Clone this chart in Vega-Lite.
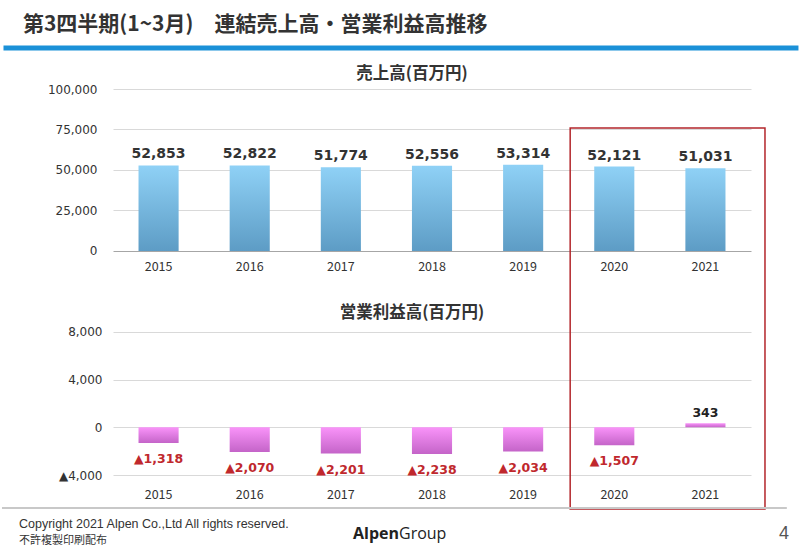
{
  "$schema": "https://vega.github.io/schema/vega-lite/v6.json",
  "width": 638,
  "height": 386,
  "padding": {"left": 0, "top": 14, "right": 0, "bottom": 0},
  "autosize": {"type": "pad"},
  "background": "#ffffff",
  "title": {
    "text": "第3四半期(1~3月)　連結売上高・営業利益高推移",
    "anchor": "start",
    "frame": "bounds",
    "dx": 22,
    "offset": 10,
    "font": "Noto Sans CJK JP",
    "fontSize": 21,
    "fontWeight": "bold",
    "color": "#333333"
  },
  "config": {"view": {"stroke": null}},
  "data": {
    "values": [
      {"kind": "bar", "year": "2015", "sales": 52853, "profit": -1318},
      {"kind": "bar", "year": "2016", "sales": 52822, "profit": -2070},
      {"kind": "bar", "year": "2017", "sales": 51774, "profit": -2201},
      {"kind": "bar", "year": "2018", "sales": 52556, "profit": -2238},
      {"kind": "bar", "year": "2019", "sales": 53314, "profit": -2034},
      {"kind": "bar", "year": "2020", "sales": 52121, "profit": -1507},
      {"kind": "bar", "year": "2021", "sales": 51031, "profit": 343},
      {"kind": "subtitle_top", "year": "2018", "label": "売上高(百万円)"},
      {"kind": "subtitle_bottom", "year": "2018", "label": "営業利益高(百万円)"},
      {"kind": "frame", "year": "2020", "year_end": "2021"},
      {"kind": "header_rule", "year": "2015", "year_end": "2021"},
      {"kind": "footer_rule", "year": "2015", "year_end": "2021"},
      {"kind": "copyright", "year": "2015", "label": "Copyright 2021 Alpen Co.,Ltd All rights reserved."},
      {"kind": "notice", "year": "2015", "label": "不許複製印刷配布"},
      {"kind": "logo_bold", "year": "2018", "label": "Alpen"},
      {"kind": "logo_regular", "year": "2018", "label": "Group"},
      {"kind": "page", "year": "2021", "label": "4"}
    ]
  },
  "encoding": {
    "x": {
      "field": "year",
      "type": "nominal",
      "scale": {"paddingInner": 0.56, "paddingOuter": 0.28},
      "axis": {
        "title": null,
        "labelAngle": 0,
        "domain": false,
        "ticks": false,
        "labelPadding": 13,
        "labelFont": "Noto Sans CJK JP",
        "labelFontSize": 12.5,
        "labelColor": "#333333"
      }
    }
  },
  "layer": [
    {
      "layer": [
        {
          "transform": [{"filter": "datum.kind === 'bar'"}],
          "mark": {
            "type": "bar",
            "fill": {
              "gradient": "linear", "x1": 0, "y1": 0, "x2": 0, "y2": 1,
              "stops": [{"offset": 0, "color": "#8fd1f6"}, {"offset": 1, "color": "#5d9cc5"}]
            }
          },
          "encoding": {
            "y": {
              "field": "sales",
              "type": "quantitative",
              "scale": {"domain": [-138272, 100000], "nice": false, "zero": false},
              "axis": {"title": null, "orient": "left", "values": [0, 25000, 50000, 75000, 100000], "format": ",.0f", "domain": false, "ticks": false, "grid": true, "gridColor": {"condition": {"test": "datum.value === 0", "value": "#a6a6a6"}, "value": "#d9d9d9"}, "labelPadding": 16, "labelFont": "DejaVu Sans", "labelFontSize": 12, "labelColor": "#333333"}
            },
            "y2": {"datum": 0}
          }
        },
        {
          "transform": [{"filter": "datum.kind === 'bar'"}],
          "mark": {"type": "text", "font": "DejaVu Sans", "fontSize": 14, "fontWeight": "bold", "color": "#333333", "baseline": "alphabetic", "dy": -7},
          "encoding": {
            "y": {
              "field": "sales",
              "type": "quantitative",
              "scale": {"domain": [-138272, 100000], "nice": false, "zero": false},
              "axis": {"title": null, "orient": "left", "values": [0, 25000, 50000, 75000, 100000], "format": ",.0f", "domain": false, "ticks": false, "grid": true, "gridColor": {"condition": {"test": "datum.value === 0", "value": "#a6a6a6"}, "value": "#d9d9d9"}, "labelPadding": 16, "labelFont": "DejaVu Sans", "labelFontSize": 12, "labelColor": "#333333"}
            },
            "text": {"field": "sales", "type": "quantitative", "format": ","}
          }
        },
        {
          "transform": [{"filter": "datum.kind === 'bar'"}],
          "mark": {"type": "text", "font": "Noto Sans CJK JP", "fontSize": 12.5, "color": "#333333", "baseline": "middle"},
          "encoding": {
            "y": {
              "datum": -9877,
              "type": "quantitative",
              "scale": {"domain": [-138272, 100000], "nice": false, "zero": false},
              "axis": {"title": null, "orient": "left", "values": [0, 25000, 50000, 75000, 100000], "format": ",.0f", "domain": false, "ticks": false, "grid": true, "gridColor": {"condition": {"test": "datum.value === 0", "value": "#a6a6a6"}, "value": "#d9d9d9"}, "labelPadding": 16, "labelFont": "DejaVu Sans", "labelFontSize": 12, "labelColor": "#333333"}
            },
            "text": {"field": "year"}
          }
        },
        {
          "transform": [{"filter": "datum.kind === 'subtitle_top'"}],
          "mark": {"type": "text", "font": "Noto Sans CJK JP", "fontSize": 16.5, "fontWeight": "bold", "color": "#333333", "baseline": "middle"},
          "encoding": {
            "x": {"field": "year", "type": "nominal", "bandPosition": 0},
            "y": {
              "datum": 109259,
              "type": "quantitative",
              "scale": {"domain": [-138272, 100000], "nice": false, "zero": false},
              "axis": {"title": null, "orient": "left", "values": [0, 25000, 50000, 75000, 100000], "format": ",.0f", "domain": false, "ticks": false, "grid": true, "gridColor": {"condition": {"test": "datum.value === 0", "value": "#a6a6a6"}, "value": "#d9d9d9"}, "labelPadding": 16, "labelFont": "DejaVu Sans", "labelFontSize": 12, "labelColor": "#333333"}
            },
            "text": {"field": "label"}
          }
        },
        {
          "transform": [{"filter": "datum.kind === 'frame'"}],
          "mark": {"type": "rect", "filled": false, "color": "#b3262b", "strokeWidth": 1.5},
          "encoding": {
            "x": {"field": "year", "type": "nominal", "bandPosition": -0.6},
            "x2": {"field": "year_end", "bandPosition": 1.985},
            "y": {
              "datum": 75926,
              "type": "quantitative",
              "scale": {"domain": [-138272, 100000], "nice": false, "zero": false},
              "axis": {"title": null, "orient": "left", "values": [0, 25000, 50000, 75000, 100000], "format": ",.0f", "domain": false, "ticks": false, "grid": true, "gridColor": {"condition": {"test": "datum.value === 0", "value": "#a6a6a6"}, "value": "#d9d9d9"}, "labelPadding": 16, "labelFont": "DejaVu Sans", "labelFontSize": 12, "labelColor": "#333333"}
            },
            "y2": {"datum": -159259}
          }
        },
        {
          "transform": [{"filter": "datum.kind === 'header_rule'"}],
          "mark": {"type": "rule", "color": "#1b91d8", "strokeWidth": 5},
          "encoding": {
            "x": {"field": "year", "type": "nominal", "bandPosition": -3.367},
            "x2": {"field": "year_end", "bandPosition": 2.82},
            "y": {
              "datum": 125309,
              "type": "quantitative",
              "scale": {"domain": [-138272, 100000], "nice": false, "zero": false},
              "axis": {"title": null, "orient": "left", "values": [0, 25000, 50000, 75000, 100000], "format": ",.0f", "domain": false, "ticks": false, "grid": true, "gridColor": {"condition": {"test": "datum.value === 0", "value": "#a6a6a6"}, "value": "#d9d9d9"}, "labelPadding": 16, "labelFont": "DejaVu Sans", "labelFontSize": 12, "labelColor": "#333333"}
            }
          }
        }
      ]
    },
    {
      "layer": [
        {
          "transform": [{"filter": "datum.kind === 'bar'"}],
          "mark": {
            "type": "bar",
            "fill": {
              "gradient": "linear", "x1": 0, "y1": 0, "x2": 0, "y2": 1,
              "stops": [{"offset": 0, "color": "#f993f9"}, {"offset": 1, "color": "#c464c8"}]
            }
          },
          "encoding": {
            "y": {
              "field": "profit",
              "type": "quantitative",
              "scale": {"domain": [-4000, 28391], "nice": false, "zero": false},
              "axis": {"title": null, "orient": "left", "values": [-4000, 0, 4000, 8000], "labelExpr": "datum.value < 0 ? '▲' + format(-datum.value, ',') : format(datum.value, ',')", "domain": false, "ticks": false, "grid": true, "gridColor": "#d9d9d9", "labelPadding": 11, "labelFont": "DejaVu Sans", "labelFontSize": 12, "labelColor": "#333333"}
            },
            "y2": {"datum": 0}
          }
        },
        {
          "transform": [
            {"filter": "datum.kind === 'bar' && datum.profit < 0"},
            {"calculate": "'▲' + format(-datum.profit, ',')", "as": "lbl"}
          ],
          "mark": {"type": "text", "font": "DejaVu Sans", "fontSize": 12.5, "fontWeight": "bold", "color": "#c0282d", "baseline": "alphabetic", "dy": 20},
          "encoding": {
            "y": {
              "field": "profit",
              "type": "quantitative",
              "scale": {"domain": [-4000, 28391], "nice": false, "zero": false},
              "axis": {"title": null, "orient": "left", "values": [-4000, 0, 4000, 8000], "labelExpr": "datum.value < 0 ? '▲' + format(-datum.value, ',') : format(datum.value, ',')", "domain": false, "ticks": false, "grid": true, "gridColor": "#d9d9d9", "labelPadding": 11, "labelFont": "DejaVu Sans", "labelFontSize": 12, "labelColor": "#333333"}
            },
            "text": {"field": "lbl"}
          }
        },
        {
          "transform": [{"filter": "datum.kind === 'bar' && datum.profit >= 0"}],
          "mark": {"type": "text", "font": "DejaVu Sans", "fontSize": 12.5, "fontWeight": "bold", "color": "#222222", "baseline": "alphabetic", "dy": -6},
          "encoding": {
            "y": {
              "field": "profit",
              "type": "quantitative",
              "scale": {"domain": [-4000, 28391], "nice": false, "zero": false},
              "axis": {"title": null, "orient": "left", "values": [-4000, 0, 4000, 8000], "labelExpr": "datum.value < 0 ? '▲' + format(-datum.value, ',') : format(datum.value, ',')", "domain": false, "ticks": false, "grid": true, "gridColor": "#d9d9d9", "labelPadding": 11, "labelFont": "DejaVu Sans", "labelFontSize": 12, "labelColor": "#333333"}
            },
            "text": {"field": "profit", "type": "quantitative", "format": ","}
          }
        },
        {
          "transform": [{"filter": "datum.kind === 'subtitle_bottom'"}],
          "mark": {"type": "text", "font": "Noto Sans CJK JP", "fontSize": 16.5, "fontWeight": "bold", "color": "#333333", "baseline": "middle"},
          "encoding": {
            "x": {"field": "year", "type": "nominal", "bandPosition": 0},
            "y": {
              "datum": 9591,
              "type": "quantitative",
              "scale": {"domain": [-4000, 28391], "nice": false, "zero": false},
              "axis": {"title": null, "orient": "left", "values": [-4000, 0, 4000, 8000], "labelExpr": "datum.value < 0 ? '▲' + format(-datum.value, ',') : format(datum.value, ',')", "domain": false, "ticks": false, "grid": true, "gridColor": "#d9d9d9", "labelPadding": 11, "labelFont": "DejaVu Sans", "labelFontSize": 12, "labelColor": "#333333"}
            },
            "text": {"field": "label"}
          }
        },
        {
          "transform": [{"filter": "datum.kind === 'footer_rule'"}],
          "mark": {"type": "rule", "color": "#c8c8c8", "strokeWidth": 2},
          "encoding": {
            "x": {"field": "year", "type": "nominal", "bandPosition": -3.405},
            "x2": {"field": "year_end", "bandPosition": 2.53},
            "y": {
              "datum": -6772,
              "type": "quantitative",
              "scale": {"domain": [-4000, 28391], "nice": false, "zero": false},
              "axis": {"title": null, "orient": "left", "values": [-4000, 0, 4000, 8000], "labelExpr": "datum.value < 0 ? '▲' + format(-datum.value, ',') : format(datum.value, ',')", "domain": false, "ticks": false, "grid": true, "gridColor": "#d9d9d9", "labelPadding": 11, "labelFont": "DejaVu Sans", "labelFontSize": 12, "labelColor": "#333333"}
            }
          }
        },
        {
          "transform": [{"filter": "datum.kind === 'copyright'"}],
          "mark": {"type": "text", "font": "Liberation Sans", "fontSize": 12.5, "color": "#333333", "align": "left", "baseline": "middle"},
          "encoding": {
            "x": {"field": "year", "type": "nominal", "bandPosition": -2.98},
            "y": {
              "datum": -8115,
              "type": "quantitative",
              "scale": {"domain": [-4000, 28391], "nice": false, "zero": false},
              "axis": {"title": null, "orient": "left", "values": [-4000, 0, 4000, 8000], "labelExpr": "datum.value < 0 ? '▲' + format(-datum.value, ',') : format(datum.value, ',')", "domain": false, "ticks": false, "grid": true, "gridColor": "#d9d9d9", "labelPadding": 11, "labelFont": "DejaVu Sans", "labelFontSize": 12, "labelColor": "#333333"}
            },
            "text": {"field": "label"}
          }
        },
        {
          "transform": [{"filter": "datum.kind === 'notice'"}],
          "mark": {"type": "text", "font": "Noto Sans CJK JP", "fontSize": 11, "color": "#333333", "align": "left", "baseline": "middle"},
          "encoding": {
            "x": {"field": "year", "type": "nominal", "bandPosition": -2.98},
            "y": {
              "datum": -9499,
              "type": "quantitative",
              "scale": {"domain": [-4000, 28391], "nice": false, "zero": false},
              "axis": {"title": null, "orient": "left", "values": [-4000, 0, 4000, 8000], "labelExpr": "datum.value < 0 ? '▲' + format(-datum.value, ',') : format(datum.value, ',')", "domain": false, "ticks": false, "grid": true, "gridColor": "#d9d9d9", "labelPadding": 11, "labelFont": "DejaVu Sans", "labelFontSize": 12, "labelColor": "#333333"}
            },
            "text": {"field": "label"}
          }
        },
        {
          "transform": [{"filter": "datum.kind === 'logo_bold'"}],
          "mark": {"type": "text", "font": "Open Sans", "fontSize": 16, "fontWeight": "bold", "color": "#222222", "align": "right", "baseline": "middle"},
          "encoding": {
            "x": {"field": "year", "type": "nominal", "bandPosition": -0.323},
            "y": {
              "datum": -8953,
              "type": "quantitative",
              "scale": {"domain": [-4000, 28391], "nice": false, "zero": false},
              "axis": {"title": null, "orient": "left", "values": [-4000, 0, 4000, 8000], "labelExpr": "datum.value < 0 ? '▲' + format(-datum.value, ',') : format(datum.value, ',')", "domain": false, "ticks": false, "grid": true, "gridColor": "#d9d9d9", "labelPadding": 11, "labelFont": "DejaVu Sans", "labelFontSize": 12, "labelColor": "#333333"}
            },
            "text": {"field": "label"}
          }
        },
        {
          "transform": [{"filter": "datum.kind === 'logo_regular'"}],
          "mark": {"type": "text", "font": "Open Sans", "fontSize": 16, "color": "#222222", "align": "left", "baseline": "middle"},
          "encoding": {
            "x": {"field": "year", "type": "nominal", "bandPosition": -0.323},
            "y": {
              "datum": -8953,
              "type": "quantitative",
              "scale": {"domain": [-4000, 28391], "nice": false, "zero": false},
              "axis": {"title": null, "orient": "left", "values": [-4000, 0, 4000, 8000], "labelExpr": "datum.value < 0 ? '▲' + format(-datum.value, ',') : format(datum.value, ',')", "domain": false, "ticks": false, "grid": true, "gridColor": "#d9d9d9", "labelPadding": 11, "labelFont": "DejaVu Sans", "labelFontSize": 12, "labelColor": "#333333"}
            },
            "text": {"field": "label"}
          }
        },
        {
          "transform": [{"filter": "datum.kind === 'page'"}],
          "mark": {"type": "text", "font": "Liberation Sans", "fontSize": 18, "color": "#555555", "align": "center", "baseline": "middle"},
          "encoding": {
            "x": {"field": "year", "type": "nominal", "bandPosition": 2.46},
            "y": {
              "datum": -8953,
              "type": "quantitative",
              "scale": {"domain": [-4000, 28391], "nice": false, "zero": false},
              "axis": {"title": null, "orient": "left", "values": [-4000, 0, 4000, 8000], "labelExpr": "datum.value < 0 ? '▲' + format(-datum.value, ',') : format(datum.value, ',')", "domain": false, "ticks": false, "grid": true, "gridColor": "#d9d9d9", "labelPadding": 11, "labelFont": "DejaVu Sans", "labelFontSize": 12, "labelColor": "#333333"}
            },
            "text": {"field": "label"}
          }
        }
      ]
    }
  ],
  "resolve": {"scale": {"y": "independent"}, "axis": {"y": "independent"}}
}
